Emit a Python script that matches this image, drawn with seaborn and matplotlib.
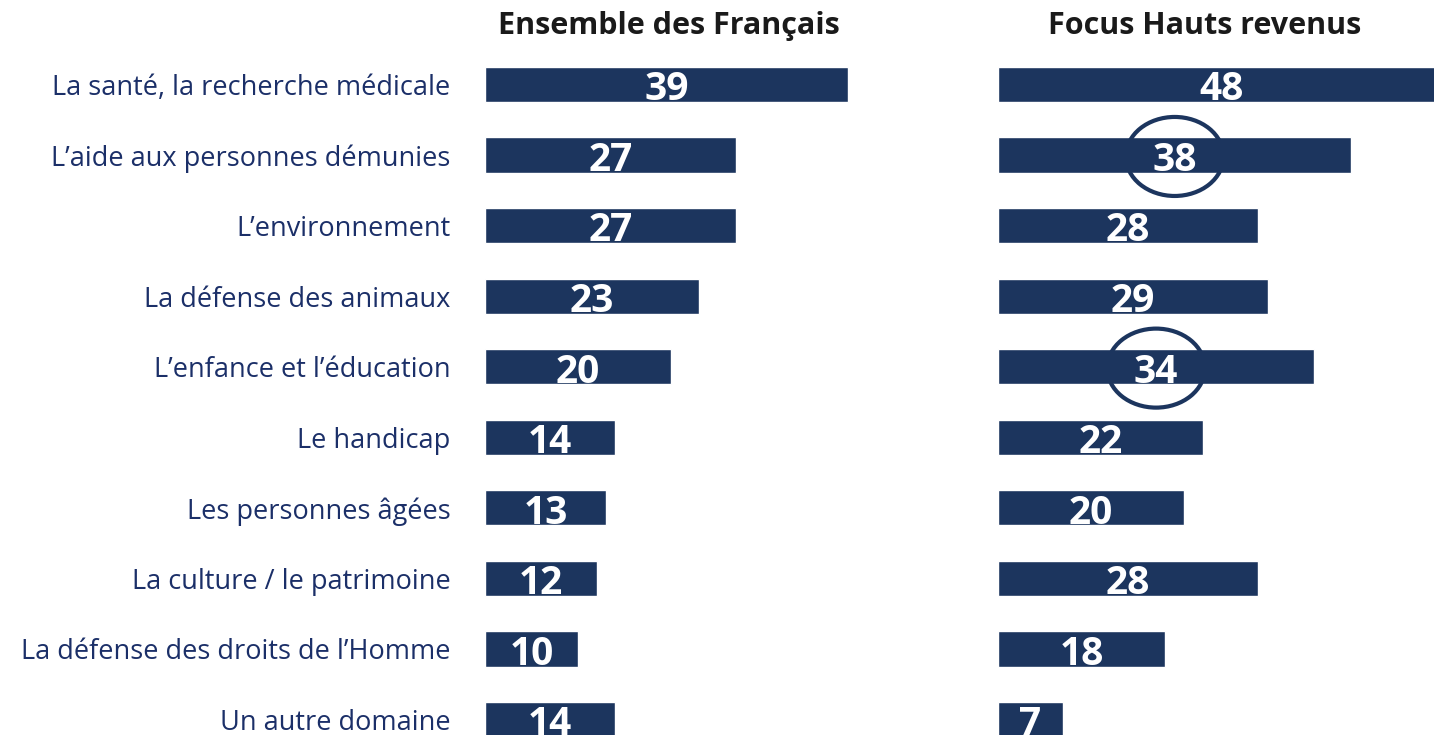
import numpy as np
import pandas as pd
import matplotlib
matplotlib.use("Agg")
import matplotlib.pyplot as plt
from matplotlib.patches import Ellipse
import seaborn as sns

# donnees
categories = [
    "La santé, la recherche médicale",
    "L’aide aux personnes démunies",
    "L’environnement",
    "La défense des animaux",
    "L’enfance et l’éducation",
    "Le handicap",
    "Les personnes âgées",
    "La culture / le patrimoine",
    "La défense des droits de l’Homme",
    "Un autre domaine",
]
ensemble = [39, 27, 27, 23, 20, 14, 13, 12, 10, 14]
hauts_revenus = [48, 38, 28, 29, 34, 22, 20, 28, 18, 7]
cercles = ["L’aide aux personnes démunies", "L’enfance et l’éducation"]

titre_gauche = "Ensemble des Français"
titre_droite = "Focus Hauts revenus"

NAVY = "#1c355e"
LABEL_COL = "#1b2f68"

sns.set_theme(style="white")
plt.rcParams["font.family"] = ["Open Sans", "DejaVu Sans"]

W, H = 1434, 735
fig = plt.figure(figsize=(W / 100, H / 100), dpi=100)

px = 9.3          # pixels par point de %
row = 70.55       # pixels par ligne
top = 84.5 - row / 2
bottom = top + row * len(categories)


def make_ax(x0, x1):
    ax = fig.add_axes([x0 / W, 1 - bottom / H, (x1 - x0) / W, (bottom - top) / H])
    ax.set_xlim(0, (x1 - x0) / px)
    return ax


df = pd.DataFrame({"cat": categories, "ens": ensemble, "hr": hauts_revenus})

ax1 = make_ax(485, 485 + 420)
ax2 = make_ax(998, 1434)
xlim1 = ax1.get_xlim()
xlim2 = ax2.get_xlim()

for ax, col, xl in [(ax1, "ens", xlim1), (ax2, "hr", xlim2)]:
    sns.barplot(data=df, x=col, y="cat", ax=ax, color=NAVY, width=0.5,
                saturation=1, orient="h")
    ax.set_xlim(*xl)
    ax.set_ylim(len(categories) - 0.5, -0.5)
    ax.set_xlabel("")
    ax.set_ylabel("")
    ax.set_xticks([])
    for s in ax.spines.values():
        s.set_visible(False)
    for i, v in enumerate(df[col]):
        ax.text(v / 2, i + 0.225, str(v), ha="center", va="baseline",
                color="white", fontsize=28, fontweight="bold", clip_on=False)

ax1.tick_params(axis="y", length=0, pad=25)
for lab in ax1.get_yticklabels():
    lab.set_fontsize(19.5)
    lab.set_color(LABEL_COL)
ax2.set_yticks([])

# cercles de mise en avant
for c in cercles:
    i = categories.index(c)
    v = hauts_revenus[i]
    e = Ellipse((v / 2, i + 0.02), width=10.5, height=1.12, fill=False,
                edgecolor=NAVY, linewidth=3, clip_on=False, zorder=5)
    ax2.add_patch(e)

fig.text(669 / W, 1 - 26 / H, titre_gauche, ha="center", va="center",
         fontsize=22, fontweight="bold", color="#1a1a1a")
fig.text(1205 / W, 1 - 26 / H, titre_droite, ha="center", va="center",
         fontsize=22, fontweight="bold", color="#1a1a1a")

fig.savefig("out.png", dpi=100)
